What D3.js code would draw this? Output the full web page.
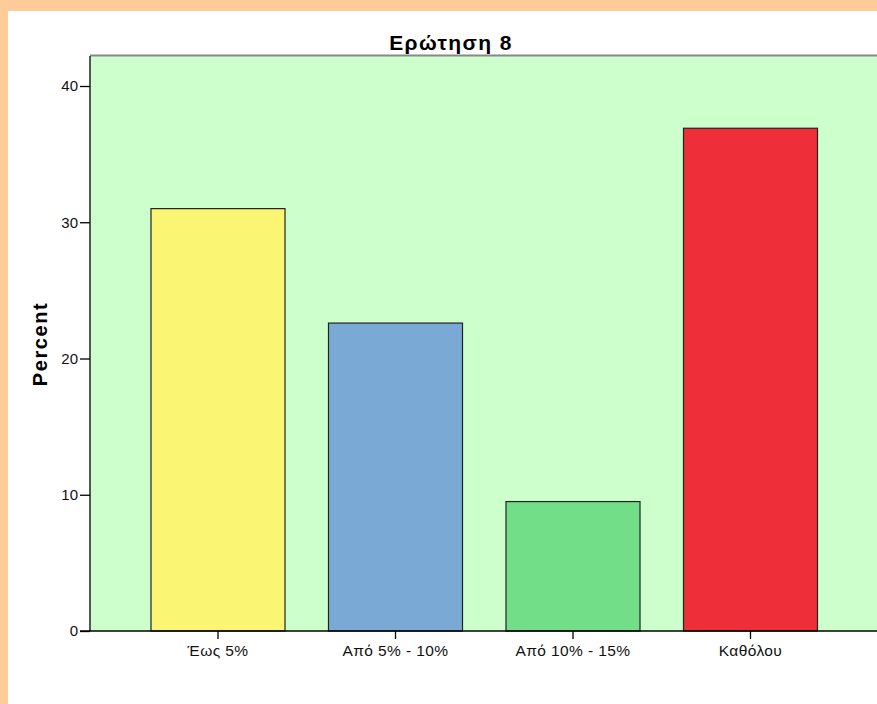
<!DOCTYPE html>
<html>
<head>
<meta charset="utf-8">
<script src="https://cdn.jsdelivr.net/npm/d3@7.9.0/dist/d3.min.js"></script>
<style>
  html, body { margin: 0; padding: 0; background: #FFCC99; }
  svg { display: block; font-family: "Liberation Sans", Arial, sans-serif; }
</style>
</head>
<body>
<svg id="chart" width="877" height="704"></svg>
<script>
const categories = ['Έως 5%', 'Από 5% - 10%', 'Από 10% - 15%', 'Καθόλου'];
const percents = [31.0, 22.6, 9.5, 36.9];
const barColors = ['#FBF574', '#7BA9D6', '#72DE88', '#EE2F3A'];
const yTicks = [0, 10, 20, 30, 40];

const svg = d3.select('#chart');

// white panel inside the peach frame
svg.append('rect')
  .attr('x', 8).attr('y', 11)
  .attr('width', 877 - 8).attr('height', 704 - 11)
  .attr('fill', '#fff');

const plot = { left: 90, top: 56, right: 884, bottom: 631 };

const y = d3.scaleLinear()
  .domain([0, 40])
  .range([plot.bottom, plot.bottom - 545]);

const x = d3.scaleBand()
  .domain(categories)
  .range([129.25, 839.25])
  .paddingInner(0.245)
  .paddingOuter(0.1225);

// plot background
svg.append('rect')
  .attr('x', plot.left).attr('y', plot.top)
  .attr('width', plot.right - plot.left).attr('height', plot.bottom - plot.top)
  .attr('fill', '#CCFFCC');

svg.append('line')
  .attr('x1', plot.left).attr('x2', plot.right)
  .attr('y1', plot.top - 0.5).attr('y2', plot.top - 0.5)
  .attr('stroke', '#888').attr('stroke-width', 2);

// bars
svg.append('g')
  .selectAll('rect')
  .data(percents)
  .join('rect')
  .attr('x', (d, i) => x(categories[i]))
  .attr('y', d => y(d))
  .attr('width', x.bandwidth())
  .attr('height', d => y(0) - y(d))
  .attr('fill', (d, i) => barColors[i])
  .attr('stroke', '#222')
  .attr('stroke-width', 1.2);

// y axis
const yAxis = svg.append('g')
  .attr('transform', `translate(${plot.left},0)`)
  .call(d3.axisLeft(y).tickValues(yTicks).tickSize(10).tickPadding(2).tickFormat(d3.format('d')));
yAxis.select('.domain').attr('d', `M0,${plot.top}V${plot.bottom}`).attr('stroke', '#000').attr('stroke-width', 1.3);
yAxis.selectAll('.tick line').attr('stroke', '#000').attr('stroke-width', 1.3);
yAxis.selectAll('.tick text').attr('font-size', 15).attr('fill', '#111');

// x axis
const xAxis = svg.append('g')
  .attr('transform', `translate(0,${plot.bottom})`)
  .call(d3.axisBottom(x).tickSize(8).tickPadding(6));
xAxis.select('.domain').attr('d', `M${plot.left - 10},0H${plot.right}`).attr('stroke', '#000').attr('stroke-width', 1.3);
xAxis.selectAll('.tick line').attr('stroke', '#000').attr('stroke-width', 1.3);
xAxis.selectAll('.tick text')
  .attr('font-size', 15.5).attr('letter-spacing', 0.4).attr('fill', '#111');

// title
svg.append('text')
  .attr('x', 451).attr('y', 50)
  .attr('text-anchor', 'middle')
  .attr('font-size', 21).attr('font-weight', 'bold')
  .attr('letter-spacing', 1.4)
  .text('Ερώτηση 8');

// y label
svg.append('text')
  .attr('transform', `translate(47,344) rotate(-90)`)
  .attr('text-anchor', 'middle')
  .attr('font-size', 20).attr('font-weight', 'bold')
  .attr('letter-spacing', 1.6)
  .text('Percent');
</script>
</body>
</html>
